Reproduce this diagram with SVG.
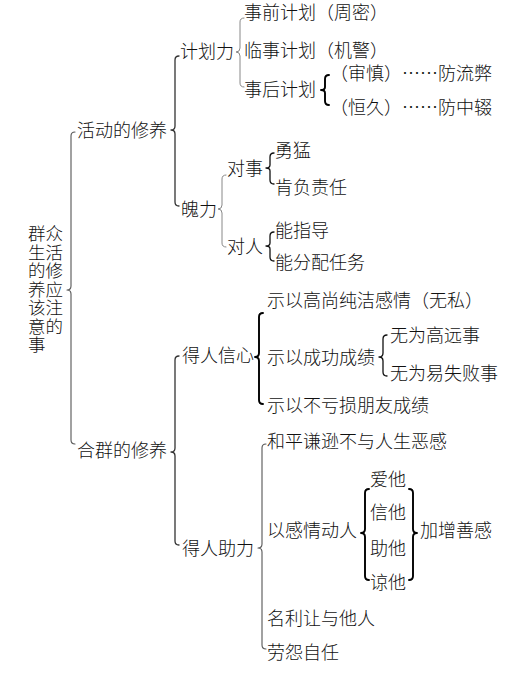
<svg xmlns="http://www.w3.org/2000/svg" width="523" height="675" viewBox="0 0 523 675">
<style>
text{font-family:"Noto Sans CJK SC","Noto Sans",sans-serif;font-size:18px;fill:#111;font-weight:300}
.r{font-size:17.5px}
.b{fill:none;stroke-linecap:round;stroke-linejoin:round}
.k{stroke:#111;stroke-width:1.3}
.kb{stroke:#000;stroke-width:1.9}
.d{stroke:#333;stroke-width:1.3}
.g{stroke:#888;stroke-width:1}
.m{stroke:#555;stroke-width:1.1}
</style>
<rect width="523" height="675" fill="#fff"/>
<g id="connectors">
<path class="b m" d="M75,132 Q71,132 71,136 L71,286 Q71,290 67,290 Q71,290 71,294 L71,440 Q71,444 75,444"/>
<path class="b d" d="M179,56 Q175,56 175,60 L175,126 Q175,130 171,130 Q175,130 175,134 L175,202 Q175,206 179,206"/>
<path class="b g" d="M244,18 Q240,18 240,22 L240,48 Q240,52 236,52 Q240,52 240,56 L240,83 Q240,87 244,87"/>
<path class="b g" d="M226,175 Q222,175 222,179 L222,205 Q222,209 218,209 Q222,209 222,213 L222,243 Q222,247 226,247"/>
<path class="b k" d="M274,153 Q270,153 270,157 L270,165 Q270,168 266,168 Q270,168 270,171 L270,180 Q270,184 274,184"/>
<path class="b k" d="M274,232 Q270,232 270,236 L270,243 Q270,246 266,246 Q270,246 270,249 L270,257 Q270,261 274,261"/>
<path class="b kb" d="M329,75 Q325,75 325,79 L325,87 Q325,90 321,90 Q325,90 325,93 L325,101 Q325,105 329,105"/>
<path class="b d" d="M179,356 Q175,356 175,360 L175,448 Q175,452 171,452 Q175,452 175,456 L175,541 Q175,545 179,545"/>
<path class="b kb" d="M263,313 Q259,313 259,317 L259,353 Q259,357 255,357 Q259,357 259,361 L259,400 Q259,404 263,404"/>
<path class="b k" d="M387,335 Q383,335 383,339 L383,353 Q383,357 379,357 Q383,357 383,361 L383,372 Q383,376 387,376"/>
<path class="b m" d="M266,444 Q262,444 262,448 L262,544 Q262,548 258,548 Q262,548 262,552 L262,645 Q262,649 266,649"/>
<path class="b kb" d="M369,489 Q365,489 365,493 L365,529 Q365,533 361,533 Q365,533 365,537 L365,576 Q365,580 369,580"/>
<path class="b kb" d="M409,489 Q413,489 413,493 L413,529 Q413,533 417,533 Q413,533 413,537 L413,576 Q413,580 409,580"/>
</g>
<g id="root"><text class="r" x="28" y="240">群众</text><text class="r" x="28" y="258.5">生活</text><text class="r" x="28" y="277">的修</text><text class="r" x="28" y="295.5">养应</text><text class="r" x="28" y="314">该注</text><text class="r" x="28" y="332.5">意的</text><text class="r" x="28" y="351">事</text></g>
<g id="n-huodong"><text x="77" y="137">活动的修养</text></g>
<g id="n-hequn"><text x="77" y="457">合群的修养</text></g>
<g id="n-jihuali"><text x="180" y="58">计划力</text></g>
<g id="n-poli"><text x="181" y="216">魄力</text></g>
<g id="n-shiqian"><text x="244" y="19">事前计划（周密）</text></g>
<g id="n-linshi"><text x="244" y="57">临事计划（机警）</text></g>
<g id="n-shihou"><text x="244" y="96">事后计划</text></g>
<g id="n-shenshen"><text x="330" y="80">（审慎）……防流弊</text></g>
<g id="n-hengjiu"><text x="330" y="114">（恒久）……防中辍</text></g>
<g id="n-duishi"><text x="227" y="175">对事</text></g>
<g id="n-duiren"><text x="227" y="253">对人</text></g>
<g id="n-yongmeng"><text x="275" y="157">勇猛</text></g>
<g id="n-kenfu"><text x="275" y="194">肯负责任</text></g>
<g id="n-nengzhi"><text x="275" y="237">能指导</text></g>
<g id="n-nengfen"><text x="275" y="269">能分配任务</text></g>
<g id="n-derenxin"><text x="182" y="362">得人信心</text></g>
<g id="n-derenzhu"><text x="182" y="555">得人助力</text></g>
<g id="n-shiyigao"><text x="267" y="307">示以高尚纯洁感情（无私）</text></g>
<g id="n-shiyicheng"><text x="267" y="364">示以成功成绩</text></g>
<g id="n-wuweigao"><text x="390" y="342">无为高远事</text></g>
<g id="n-wuweiyi"><text x="390" y="380">无为易失败事</text></g>
<g id="n-shiyibu"><text x="267" y="412">示以不亏损朋友成绩</text></g>
<g id="n-heping"><text x="267" y="448">和平谦逊不与人生恶感</text></g>
<g id="n-yiganqing"><text x="267" y="537">以感情动人</text></g>
<g id="n-aita"><text x="370" y="486">爱他</text></g>
<g id="n-xinta"><text x="370" y="519">信他</text></g>
<g id="n-zhuta"><text x="370" y="555">助他</text></g>
<g id="n-liangta"><text x="370" y="589">谅他</text></g>
<g id="n-jiazeng"><text x="420" y="537">加增善感</text></g>
<g id="n-mingli"><text x="267" y="625">名利让与他人</text></g>
<g id="n-laoyuan"><text x="267" y="659">劳怨自任</text></g>
</svg>
